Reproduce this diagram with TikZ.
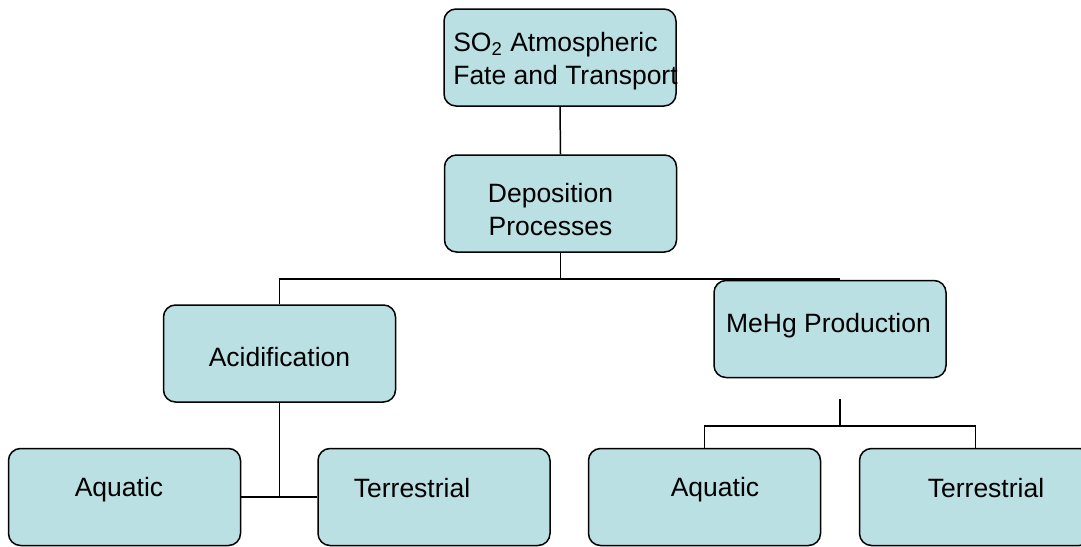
\documentclass[tikz,border=0pt]{standalone}
\usepackage{fontspec}
\setmainfont{Liberation Sans}
\usepackage{xcolor}
\definecolor{boxfill}{RGB}{187,224,227}

\begin{document}
\begin{tikzpicture}[x=0.5pt,y=-0.5pt,
  box/.style={draw=black, line width=0.75pt, fill=boxfill, rounded corners=6pt,
    minimum width=116pt, minimum height=48.5pt, inner sep=0pt},
  txt/.style={font=\fontsize{13.25}{16.5}\selectfont, inner sep=0pt},
  link/.style={line width=0.75pt}]
\useasboundingbox (0,0) rectangle (1081,546);

\node[box, label={[txt,align=left,xshift=2.75pt,yshift=-1.65pt]center:{SO\textsubscript{2} Atmospheric\\Fate and Transport}}] (fate) at (560,57.5) {};
\node[box, label={[txt,align=center,xshift=-5pt,yshift=-3.2pt]center:{Deposition\\Processes}}] (dep) at (560.5,203.5) {};

\node[box, label={[txt,yshift=-1.9pt]center:Acidification}] (acid) at (279.5,353.5) {};
\node[box, label={[txt,xshift=-0.75pt,yshift=1.9pt]center:MeHg Production}] (mehg) at (830,329) {};

\node[box, label={[txt,xshift=-2.75pt,yshift=3.85pt]center:Aquatic}] (aq1) at (124.5,497) {};
\node[box, label={[txt,xshift=-11pt,yshift=4.5pt]center:Terrestrial}] (ter1) at (434,497) {};
\node[box, label={[txt,xshift=5.25pt,yshift=3.85pt]center:Aquatic}] (aq2) at (704.5,497) {};
\node[box, label={[txt,xshift=5.25pt,yshift=4.5pt]center:Terrestrial}] (ter2) at (975.5,497) {};

% tree lines
\coordinate (bar) at (840,279);
\coordinate (stub) at (840,399);
\coordinate (fork) at (840,426);

\draw[link] (fate.south) -- (dep.north);
\draw[link] (dep.south) -- (dep.south |- bar);
\draw[link] (acid.north) -- (acid.north |- bar) -- (bar);

\draw[link] (acid.south) -- (acid.south |- aq1.east);
\draw[link] (aq1.east) -- (ter1.west);

\draw[link] (stub) -- (fork);
\draw[link] (aq2.north) -- (aq2.north |- fork) -- (ter2.north |- fork) -- (ter2.north);

\end{tikzpicture}
\end{document}
